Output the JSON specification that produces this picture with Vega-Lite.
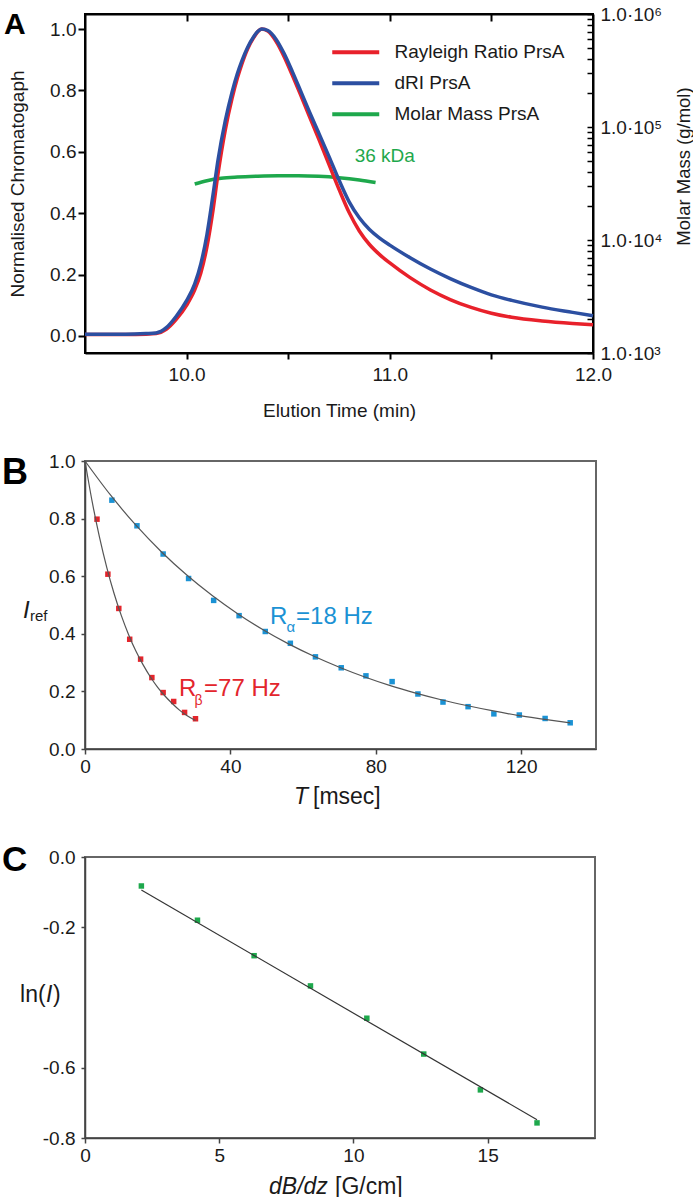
{
  "$schema": "https://vega.github.io/schema/vega-lite/v6.json",
  "background": "white",
  "padding": {"left": 0, "top": 4, "right": 0, "bottom": 0},
  "spacing": 108,
  "bounds": "flush",
  "resolve": {"scale": {"color": "independent"}, "legend": {"color": "independent"}},
  "config": {
    "font": "Liberation Sans",
    "view": {"stroke": null},
    "axis": {"grid": false, "labelFont": "Liberation Sans", "titleFont": "Liberation Sans", "labelColor": "#1a1a1a", "titleColor": "#1a1a1a", "titleFontWeight": "normal", "labelOverlap": false, "labelFlush": false},
    "legend": {"labelFont": "Liberation Sans"}
  },
  "datasets": {
    "chrom": [
      {"t": 9.5, "v": 0.005, "series": "Rayleigh Ratio PrsA"},
      {"t": 9.7, "v": 0.005, "series": "Rayleigh Ratio PrsA"},
      {"t": 9.8, "v": 0.006, "series": "Rayleigh Ratio PrsA"},
      {"t": 9.85, "v": 0.008, "series": "Rayleigh Ratio PrsA"},
      {"t": 9.9, "v": 0.022, "series": "Rayleigh Ratio PrsA"},
      {"t": 9.95, "v": 0.055, "series": "Rayleigh Ratio PrsA"},
      {"t": 10.0, "v": 0.10, "series": "Rayleigh Ratio PrsA"},
      {"t": 10.04, "v": 0.15, "series": "Rayleigh Ratio PrsA"},
      {"t": 10.07, "v": 0.205, "series": "Rayleigh Ratio PrsA"},
      {"t": 10.1, "v": 0.29, "series": "Rayleigh Ratio PrsA"},
      {"t": 10.13, "v": 0.41, "series": "Rayleigh Ratio PrsA"},
      {"t": 10.155, "v": 0.53, "series": "Rayleigh Ratio PrsA"},
      {"t": 10.19, "v": 0.67, "series": "Rayleigh Ratio PrsA"},
      {"t": 10.224, "v": 0.775, "series": "Rayleigh Ratio PrsA"},
      {"t": 10.25, "v": 0.84, "series": "Rayleigh Ratio PrsA"},
      {"t": 10.273, "v": 0.888, "series": "Rayleigh Ratio PrsA"},
      {"t": 10.3, "v": 0.935, "series": "Rayleigh Ratio PrsA"},
      {"t": 10.33, "v": 0.972, "series": "Rayleigh Ratio PrsA"},
      {"t": 10.35, "v": 0.991, "series": "Rayleigh Ratio PrsA"},
      {"t": 10.37, "v": 1.0, "series": "Rayleigh Ratio PrsA"},
      {"t": 10.4, "v": 0.993, "series": "Rayleigh Ratio PrsA"},
      {"t": 10.44, "v": 0.96, "series": "Rayleigh Ratio PrsA"},
      {"t": 10.48, "v": 0.91, "series": "Rayleigh Ratio PrsA"},
      {"t": 10.52, "v": 0.85, "series": "Rayleigh Ratio PrsA"},
      {"t": 10.56, "v": 0.787, "series": "Rayleigh Ratio PrsA"},
      {"t": 10.6, "v": 0.722, "series": "Rayleigh Ratio PrsA"},
      {"t": 10.65, "v": 0.642, "series": "Rayleigh Ratio PrsA"},
      {"t": 10.7, "v": 0.56, "series": "Rayleigh Ratio PrsA"},
      {"t": 10.75, "v": 0.478, "series": "Rayleigh Ratio PrsA"},
      {"t": 10.8, "v": 0.402, "series": "Rayleigh Ratio PrsA"},
      {"t": 10.85, "v": 0.342, "series": "Rayleigh Ratio PrsA"},
      {"t": 10.9, "v": 0.298, "series": "Rayleigh Ratio PrsA"},
      {"t": 10.95, "v": 0.265, "series": "Rayleigh Ratio PrsA"},
      {"t": 11.0, "v": 0.238, "series": "Rayleigh Ratio PrsA"},
      {"t": 11.1, "v": 0.19, "series": "Rayleigh Ratio PrsA"},
      {"t": 11.2, "v": 0.15, "series": "Rayleigh Ratio PrsA"},
      {"t": 11.3, "v": 0.118, "series": "Rayleigh Ratio PrsA"},
      {"t": 11.4, "v": 0.093, "series": "Rayleigh Ratio PrsA"},
      {"t": 11.5, "v": 0.074, "series": "Rayleigh Ratio PrsA"},
      {"t": 11.6, "v": 0.061, "series": "Rayleigh Ratio PrsA"},
      {"t": 11.75, "v": 0.049, "series": "Rayleigh Ratio PrsA"},
      {"t": 11.9, "v": 0.041, "series": "Rayleigh Ratio PrsA"},
      {"t": 12.0, "v": 0.037, "series": "Rayleigh Ratio PrsA"},
      {"t": 9.5, "v": 0.006, "series": "dRI PrsA"},
      {"t": 9.7, "v": 0.006, "series": "dRI PrsA"},
      {"t": 9.8, "v": 0.008, "series": "dRI PrsA"},
      {"t": 9.85, "v": 0.01, "series": "dRI PrsA"},
      {"t": 9.9, "v": 0.027, "series": "dRI PrsA"},
      {"t": 9.95, "v": 0.065, "series": "dRI PrsA"},
      {"t": 10.0, "v": 0.115, "series": "dRI PrsA"},
      {"t": 10.04, "v": 0.17, "series": "dRI PrsA"},
      {"t": 10.07, "v": 0.235, "series": "dRI PrsA"},
      {"t": 10.1, "v": 0.33, "series": "dRI PrsA"},
      {"t": 10.13, "v": 0.46, "series": "dRI PrsA"},
      {"t": 10.155, "v": 0.575, "series": "dRI PrsA"},
      {"t": 10.19, "v": 0.70, "series": "dRI PrsA"},
      {"t": 10.224, "v": 0.795, "series": "dRI PrsA"},
      {"t": 10.25, "v": 0.855, "series": "dRI PrsA"},
      {"t": 10.273, "v": 0.898, "series": "dRI PrsA"},
      {"t": 10.3, "v": 0.94, "series": "dRI PrsA"},
      {"t": 10.33, "v": 0.975, "series": "dRI PrsA"},
      {"t": 10.35, "v": 0.992, "series": "dRI PrsA"},
      {"t": 10.37, "v": 1.0, "series": "dRI PrsA"},
      {"t": 10.4, "v": 0.995, "series": "dRI PrsA"},
      {"t": 10.44, "v": 0.967, "series": "dRI PrsA"},
      {"t": 10.48, "v": 0.92, "series": "dRI PrsA"},
      {"t": 10.52, "v": 0.862, "series": "dRI PrsA"},
      {"t": 10.56, "v": 0.80, "series": "dRI PrsA"},
      {"t": 10.6, "v": 0.737, "series": "dRI PrsA"},
      {"t": 10.65, "v": 0.662, "series": "dRI PrsA"},
      {"t": 10.7, "v": 0.586, "series": "dRI PrsA"},
      {"t": 10.75, "v": 0.508, "series": "dRI PrsA"},
      {"t": 10.8, "v": 0.437, "series": "dRI PrsA"},
      {"t": 10.85, "v": 0.385, "series": "dRI PrsA"},
      {"t": 10.9, "v": 0.347, "series": "dRI PrsA"},
      {"t": 10.95, "v": 0.319, "series": "dRI PrsA"},
      {"t": 11.0, "v": 0.296, "series": "dRI PrsA"},
      {"t": 11.1, "v": 0.255, "series": "dRI PrsA"},
      {"t": 11.2, "v": 0.218, "series": "dRI PrsA"},
      {"t": 11.3, "v": 0.186, "series": "dRI PrsA"},
      {"t": 11.4, "v": 0.158, "series": "dRI PrsA"},
      {"t": 11.5, "v": 0.134, "series": "dRI PrsA"},
      {"t": 11.6, "v": 0.116, "series": "dRI PrsA"},
      {"t": 11.75, "v": 0.094, "series": "dRI PrsA"},
      {"t": 11.9, "v": 0.077, "series": "dRI PrsA"},
      {"t": 12.0, "v": 0.066, "series": "dRI PrsA"}
    ],
    "mass": [
      {"t": 10.04, "mass": 31300, "series": "Molar Mass PrsA"},
      {"t": 10.1, "mass": 33500, "series": "Molar Mass PrsA"},
      {"t": 10.17, "mass": 35200, "series": "Molar Mass PrsA"},
      {"t": 10.25, "mass": 36100, "series": "Molar Mass PrsA"},
      {"t": 10.35, "mass": 36700, "series": "Molar Mass PrsA"},
      {"t": 10.45, "mass": 37000, "series": "Molar Mass PrsA"},
      {"t": 10.55, "mass": 37000, "series": "Molar Mass PrsA"},
      {"t": 10.65, "mass": 36600, "series": "Molar Mass PrsA"},
      {"t": 10.75, "mass": 35600, "series": "Molar Mass PrsA"},
      {"t": 10.85, "mass": 34000, "series": "Molar Mass PrsA"},
      {"t": 10.93, "mass": 32300, "series": "Molar Mass PrsA"}
    ],
    "ptsB": [
      {"T": 3.3, "I": 0.798, "series": "beta"},
      {"T": 6.3, "I": 0.607, "series": "beta"},
      {"T": 9.3, "I": 0.488, "series": "beta"},
      {"T": 12.3, "I": 0.381, "series": "beta"},
      {"T": 15.3, "I": 0.312, "series": "beta"},
      {"T": 18.4, "I": 0.248, "series": "beta"},
      {"T": 21.5, "I": 0.196, "series": "beta"},
      {"T": 24.4, "I": 0.165, "series": "beta"},
      {"T": 27.4, "I": 0.127, "series": "beta"},
      {"T": 30.4, "I": 0.105, "series": "beta"},
      {"T": 7.4, "I": 0.864, "series": "alpha"},
      {"T": 14.3, "I": 0.775, "series": "alpha"},
      {"T": 21.5, "I": 0.677, "series": "alpha"},
      {"T": 28.5, "I": 0.592, "series": "alpha"},
      {"T": 35.4, "I": 0.516, "series": "alpha"},
      {"T": 42.4, "I": 0.463, "series": "alpha"},
      {"T": 49.6, "I": 0.408, "series": "alpha"},
      {"T": 56.5, "I": 0.367, "series": "alpha"},
      {"T": 63.4, "I": 0.320, "series": "alpha"},
      {"T": 70.5, "I": 0.282, "series": "alpha"},
      {"T": 77.3, "I": 0.254, "series": "alpha"},
      {"T": 84.5, "I": 0.234, "series": "alpha"},
      {"T": 91.6, "I": 0.191, "series": "alpha"},
      {"T": 98.5, "I": 0.163, "series": "alpha"},
      {"T": 105.4, "I": 0.147, "series": "alpha"},
      {"T": 112.5, "I": 0.122, "series": "alpha"},
      {"T": 119.5, "I": 0.118, "series": "alpha"},
      {"T": 126.6, "I": 0.106, "series": "alpha"},
      {"T": 133.5, "I": 0.091, "series": "alpha"}
    ],
    "fitB": [
      {"T": 0, "I": 1.0, "series": "beta"},
      {"T": 2, "I": 0.857, "series": "beta"},
      {"T": 4, "I": 0.735, "series": "beta"},
      {"T": 6, "I": 0.630, "series": "beta"},
      {"T": 8, "I": 0.540, "series": "beta"},
      {"T": 10, "I": 0.463, "series": "beta"},
      {"T": 12, "I": 0.397, "series": "beta"},
      {"T": 14, "I": 0.340, "series": "beta"},
      {"T": 16, "I": 0.292, "series": "beta"},
      {"T": 18, "I": 0.250, "series": "beta"},
      {"T": 20, "I": 0.214, "series": "beta"},
      {"T": 22, "I": 0.184, "series": "beta"},
      {"T": 24, "I": 0.158, "series": "beta"},
      {"T": 26, "I": 0.135, "series": "beta"},
      {"T": 28, "I": 0.116, "series": "beta"},
      {"T": 30.4, "I": 0.099, "series": "beta"},
      {"T": 0, "I": 1.0, "series": "alpha"},
      {"T": 7, "I": 0.882, "series": "alpha"},
      {"T": 14, "I": 0.777, "series": "alpha"},
      {"T": 21, "I": 0.685, "series": "alpha"},
      {"T": 28, "I": 0.604, "series": "alpha"},
      {"T": 35, "I": 0.533, "series": "alpha"},
      {"T": 42, "I": 0.470, "series": "alpha"},
      {"T": 49, "I": 0.414, "series": "alpha"},
      {"T": 56, "I": 0.365, "series": "alpha"},
      {"T": 63, "I": 0.322, "series": "alpha"},
      {"T": 70, "I": 0.284, "series": "alpha"},
      {"T": 77, "I": 0.250, "series": "alpha"},
      {"T": 84, "I": 0.220, "series": "alpha"},
      {"T": 91, "I": 0.194, "series": "alpha"},
      {"T": 98, "I": 0.171, "series": "alpha"},
      {"T": 105, "I": 0.151, "series": "alpha"},
      {"T": 112, "I": 0.133, "series": "alpha"},
      {"T": 119, "I": 0.117, "series": "alpha"},
      {"T": 126, "I": 0.104, "series": "alpha"},
      {"T": 133.5, "I": 0.091, "series": "alpha"}
    ],
    "ptsC": [
      {"g": 2.1, "lnI": -0.0825},
      {"g": 4.19, "lnI": -0.180},
      {"g": 6.3, "lnI": -0.281},
      {"g": 8.4, "lnI": -0.367},
      {"g": 10.5, "lnI": -0.459},
      {"g": 12.62, "lnI": -0.561},
      {"g": 14.73, "lnI": -0.663},
      {"g": 16.84, "lnI": -0.757}
    ],
    "fitC": [
      {"g": 2.1, "lnI": -0.094},
      {"g": 16.84, "lnI": -0.748}
    ]
  },
  "vconcat": [
    {
      "width": 508,
      "height": 339,
      "view": {"stroke": "black", "strokeWidth": 2},
      "resolve": {"scale": {"y": "independent"}},
      "layer": [
        {
          "data": {"name": "mass"},
          "mark": {"type": "line", "strokeWidth": 3.5, "interpolate": "monotone"},
          "encoding": {
            "x": {"field": "t", "type": "quantitative", "scale": {"domain": [9.5, 12], "nice": false, "zero": false},
              "axis": {"orient": "top", "values": [10, 10.5, 11, 11.5], "labels": false, "tickSize": -7, "tickWidth": 2, "tickColor": "black", "domainColor": "black", "domainWidth": 2, "title": null}},
            "y": {"field": "mass", "type": "quantitative", "scale": {"type": "log", "domain": [1000, 1000000], "nice": false},
              "axis": {"orient": "right",
                "values": [1000, 2000, 3000, 4000, 5000, 6000, 7000, 8000, 9000, 10000, 20000, 30000, 40000, 50000, 60000, 70000, 80000, 90000, 100000, 200000, 300000, 400000, 500000, 600000, 700000, 800000, 900000, 1000000],
                "labelExpr": "datum.value == 1000 ? '1.0·10³' : datum.value == 10000 ? '1.0·10⁴' : datum.value == 100000 ? '1.0·10⁵' : datum.value == 1000000 ? '1.0·10⁶' : ''",
                "tickSize": -6, "tickWidth": 1.5, "tickColor": "black", "domainColor": "black", "domainWidth": 2,
                "labelFontSize": 19, "labelPadding": 13,
                "title": "Molar Mass (g/mol)", "titleFontSize": 18.5, "titleAngle": 270, "titleX": 90, "titleY": 152, "titleBaseline": "middle", "titleAlign": "center"}},
            "color": {"field": "series", "type": "nominal", "scale": {"domain": ["Rayleigh Ratio PrsA", "dRI PrsA", "Molar Mass PrsA"], "range": ["#e8212b", "#2c4fa1", "#1ea84c"]}}
          }
        },
        {
          "layer": [
            {
              "data": {"name": "chrom"},
              "mark": {"type": "line", "strokeWidth": 3.5, "interpolate": "monotone"},
              "encoding": {
                "x": {"field": "t", "type": "quantitative", "scale": {"domain": [9.5, 12], "nice": false, "zero": false},
                  "axis": {"orient": "bottom", "values": [10, 10.5, 11, 11.5, 12],
                    "labelExpr": "datum.value % 1 == 0 ? format(datum.value, '.1f') : ''",
                    "tickSize": 6, "tickWidth": 2, "tickColor": "black", "domainColor": "black", "domainWidth": 2,
                    "labelFontSize": 19, "labelPadding": 6,
                    "title": "Elution Time (min)", "titleFontSize": 19, "titleY": 63, "titleBaseline": "alphabetic"}},
                "y": {"field": "v", "type": "quantitative", "scale": {"domain": [-0.0554, 1.0489], "nice": false, "zero": false},
                  "axis": {"orient": "left", "values": [0, 0.1, 0.2, 0.3, 0.4, 0.5, 0.6, 0.7, 0.8, 0.9, 1.0],
                    "labelExpr": "round(datum.value*10) % 2 == 0 ? format(datum.value, '.1f') : ''",
                    "tickSize": 7, "tickWidth": 2, "tickColor": "black", "domainColor": "black", "domainWidth": 2,
                    "labelFontSize": 19, "labelPadding": 2,
                    "title": "Normalised Chromatogaph", "titleFontSize": 19, "titleX": -68, "titleBaseline": "middle"}},
                "color": {"field": "series", "type": "nominal", "scale": {"domain": ["Rayleigh Ratio PrsA", "dRI PrsA", "Molar Mass PrsA"], "range": ["#e8212b", "#2c4fa1", "#1ea84c"]},
                  "legend": {"orient": "none", "legendX": 256.75, "legendY": 24.25, "title": null, "symbolType": "M-2,0H2", "symbolSize": 552, "symbolStrokeWidth": 4, "labelFontSize": 19, "labelOffset": 24.75, "labelLimit": 0, "rowPadding": 7, "padding": 0, "labelColor": "#1a1a1a"}}
              }
            },
            {
              "data": {"values": [{"label": "36 kDa"}]},
              "mark": {"type": "text", "align": "left", "baseline": "alphabetic", "fontSize": 19, "color": "#1ea84c"},
              "encoding": {
                "text": {"field": "label"},
                "x": {"datum": 10.827, "type": "quantitative"},
                "y": {"datum": 0.567, "type": "quantitative"}
              }
            },
            {
              "data": {"values": [{"label": "A"}]},
              "mark": {"type": "text", "align": "left", "baseline": "alphabetic", "fontSize": 30, "fontWeight": "bold", "color": "black"},
              "encoding": {
                "text": {"field": "label"},
                "x": {"datum": 9.101, "type": "quantitative"},
                "y": {"datum": 0.9837, "type": "quantitative"}
              }
            }
          ]
        }
      ]
    },
    {
      "width": 511,
      "height": 288,
      "view": {"stroke": "#666", "strokeWidth": 2},
      "layer": [
        {
          "data": {"name": "ptsB"},
          "mark": {"type": "point", "shape": "square", "filled": true, "size": 30, "opacity": 1},
          "encoding": {
            "x": {"field": "T", "type": "quantitative", "scale": {"domain": [0, 140.6], "nice": false},
              "axis": {"values": [0, 40, 80, 120], "format": "d", "tickSize": 5, "tickWidth": 1.5, "tickColor": "#444", "domainColor": "#444", "domainWidth": 1.5, "labelFontSize": 19, "labelPadding": 3, "title": null}},
            "y": {"field": "I", "type": "quantitative", "scale": {"domain": [0, 1], "nice": false},
              "axis": {"values": [0, 0.2, 0.4, 0.6, 0.8, 1.0], "format": ".1f", "tickSize": 4, "tickWidth": 1.5, "tickColor": "#444", "domainColor": "#444", "domainWidth": 1.5, "labelFontSize": 19, "labelPadding": 6, "title": null}},
            "color": {"field": "series", "type": "nominal", "scale": {"domain": ["alpha", "beta"], "range": ["#1b92d4", "#e3252c"]}, "legend": null}
          }
        },
        {
          "data": {"name": "fitB"},
          "mark": {"type": "line", "color": "#555", "strokeWidth": 1.2, "interpolate": "monotone"},
          "encoding": {
            "x": {"field": "T", "type": "quantitative"},
            "y": {"field": "I", "type": "quantitative"},
            "detail": {"field": "series"}
          }
        },
        {
          "data": {"values": [{"label": "B"}]},
          "mark": {"type": "text", "align": "left", "baseline": "alphabetic", "fontSize": 36, "fontWeight": "bold", "color": "black"},
          "encoding": {"text": {"field": "label"}, "x": {"datum": -22.84, "type": "quantitative"}, "y": {"datum": 0.92, "type": "quantitative"}}
        },
        {
          "data": {"values": [{"label": "I"}]},
          "mark": {"type": "text", "align": "left", "baseline": "alphabetic", "fontSize": 24, "fontStyle": "italic", "color": "#1a1a1a"},
          "encoding": {"text": {"field": "label"}, "x": {"datum": -17.06, "type": "quantitative"}, "y": {"datum": 0.455, "type": "quantitative"}}
        },
        {
          "data": {"values": [{"label": "ref"}]},
          "mark": {"type": "text", "align": "left", "baseline": "alphabetic", "fontSize": 15, "dx": 7, "dy": 3, "color": "#1a1a1a"},
          "encoding": {"text": {"field": "label"}, "x": {"datum": -17.06, "type": "quantitative"}, "y": {"datum": 0.455, "type": "quantitative"}}
        },
        {
          "data": {"values": [{"label": "T"}]},
          "mark": {"type": "text", "align": "left", "baseline": "alphabetic", "fontSize": 23, "fontStyle": "italic", "color": "#1a1a1a"},
          "encoding": {"text": {"field": "label"}, "x": {"datum": 57.51, "type": "quantitative"}, "y": {"datum": -0.191, "type": "quantitative"}}
        },
        {
          "data": {"values": [{"label": "[msec]"}]},
          "mark": {"type": "text", "align": "left", "baseline": "alphabetic", "fontSize": 23, "dx": 19, "color": "#1a1a1a"},
          "encoding": {"text": {"field": "label"}, "x": {"datum": 57.51, "type": "quantitative"}, "y": {"datum": -0.191, "type": "quantitative"}}
        },
        {
          "data": {"values": [{"label": "R"}]},
          "mark": {"type": "text", "align": "left", "baseline": "alphabetic", "fontSize": 24, "color": "#1b92d4"},
          "encoding": {"text": {"field": "label"}, "x": {"datum": 50.91, "type": "quantitative"}, "y": {"datum": 0.434, "type": "quantitative"}}
        },
        {
          "data": {"values": [{"label": "α"}]},
          "mark": {"type": "text", "align": "left", "baseline": "alphabetic", "fontSize": 15, "dx": 16.5, "dy": 8, "color": "#1b92d4"},
          "encoding": {"text": {"field": "label"}, "x": {"datum": 50.91, "type": "quantitative"}, "y": {"datum": 0.434, "type": "quantitative"}}
        },
        {
          "data": {"values": [{"label": "=18 Hz"}]},
          "mark": {"type": "text", "align": "left", "baseline": "alphabetic", "fontSize": 24, "dx": 26, "color": "#1b92d4"},
          "encoding": {"text": {"field": "label"}, "x": {"datum": 50.91, "type": "quantitative"}, "y": {"datum": 0.434, "type": "quantitative"}}
        },
        {
          "data": {"values": [{"label": "R"}]},
          "mark": {"type": "text", "align": "left", "baseline": "alphabetic", "fontSize": 24, "color": "#e3252c"},
          "encoding": {"text": {"field": "label"}, "x": {"datum": 25.87, "type": "quantitative"}, "y": {"datum": 0.184, "type": "quantitative"}}
        },
        {
          "data": {"values": [{"label": "β"}]},
          "mark": {"type": "text", "align": "left", "baseline": "alphabetic", "fontSize": 14, "dx": 15.5, "dy": 9, "color": "#e3252c"},
          "encoding": {"text": {"field": "label"}, "x": {"datum": 25.87, "type": "quantitative"}, "y": {"datum": 0.184, "type": "quantitative"}}
        },
        {
          "data": {"values": [{"label": "=77 Hz"}]},
          "mark": {"type": "text", "align": "left", "baseline": "alphabetic", "fontSize": 24, "dx": 25, "color": "#e3252c"},
          "encoding": {"text": {"field": "label"}, "x": {"datum": 25.87, "type": "quantitative"}, "y": {"datum": 0.184, "type": "quantitative"}}
        }
      ]
    },
    {
      "width": 510,
      "height": 281,
      "view": {"stroke": "#666", "strokeWidth": 2},
      "layer": [
        {
          "data": {"name": "ptsC"},
          "mark": {"type": "point", "shape": "square", "filled": true, "size": 30, "opacity": 1, "color": "#1ea84c"},
          "encoding": {
            "x": {"field": "g", "type": "quantitative", "scale": {"domain": [0, 19], "nice": false},
              "axis": {"values": [0, 5, 10, 15], "format": "d", "tickSize": 5, "tickWidth": 1.5, "tickColor": "#444", "domainColor": "#444", "domainWidth": 1.5, "labelFontSize": 19, "labelPadding": 3, "title": null}},
            "y": {"field": "lnI", "type": "quantitative", "scale": {"domain": [-0.8, 0], "nice": false, "zero": false},
              "axis": {"values": [0, -0.2, -0.6, -0.8], "labelExpr": "datum.value == 0 ? '0.0' : '-' + format(abs(datum.value), '.1f')", "tickSize": 4, "tickWidth": 1.5, "tickColor": "#444", "domainColor": "#444", "domainWidth": 1.5, "labelFontSize": 19, "labelPadding": 6, "title": null}}
          }
        },
        {
          "data": {"name": "fitC"},
          "mark": {"type": "line", "color": "#333", "strokeWidth": 1.2},
          "encoding": {
            "x": {"field": "g", "type": "quantitative"},
            "y": {"field": "lnI", "type": "quantitative"}
          }
        },
        {
          "data": {"values": [{"label": "C"}]},
          "mark": {"type": "text", "align": "left", "baseline": "alphabetic", "fontSize": 35, "fontWeight": "bold", "color": "black"},
          "encoding": {"text": {"field": "label"}, "x": {"datum": -3.092, "type": "quantitative"}, "y": {"datum": -0.04, "type": "quantitative"}}
        },
        {
          "data": {"values": [{"label": "ln("}]},
          "mark": {"type": "text", "align": "left", "baseline": "alphabetic", "fontSize": 23, "color": "#1a1a1a"},
          "encoding": {"text": {"field": "label"}, "x": {"datum": -2.42, "type": "quantitative"}, "y": {"datum": -0.4128, "type": "quantitative"}}
        },
        {
          "data": {"values": [{"label": "I"}]},
          "mark": {"type": "text", "align": "left", "baseline": "alphabetic", "fontSize": 23, "fontStyle": "italic", "dx": 26, "color": "#1a1a1a"},
          "encoding": {"text": {"field": "label"}, "x": {"datum": -2.42, "type": "quantitative"}, "y": {"datum": -0.4128, "type": "quantitative"}}
        },
        {
          "data": {"values": [{"label": ")"}]},
          "mark": {"type": "text", "align": "left", "baseline": "alphabetic", "fontSize": 23, "dx": 33, "color": "#1a1a1a"},
          "encoding": {"text": {"field": "label"}, "x": {"datum": -2.42, "type": "quantitative"}, "y": {"datum": -0.4128, "type": "quantitative"}}
        },
        {
          "data": {"values": [{"label": "dB/dz"}]},
          "mark": {"type": "text", "align": "left", "baseline": "alphabetic", "fontSize": 23, "fontStyle": "italic", "color": "#1a1a1a"},
          "encoding": {"text": {"field": "label"}, "x": {"datum": 6.855, "type": "quantitative"}, "y": {"datum": -0.9594, "type": "quantitative"}}
        },
        {
          "data": {"values": [{"label": "[G/cm]"}]},
          "mark": {"type": "text", "align": "left", "baseline": "alphabetic", "fontSize": 23, "dx": 66, "color": "#1a1a1a"},
          "encoding": {"text": {"field": "label"}, "x": {"datum": 6.855, "type": "quantitative"}, "y": {"datum": -0.9594, "type": "quantitative"}}
        }
      ]
    }
  ]
}
